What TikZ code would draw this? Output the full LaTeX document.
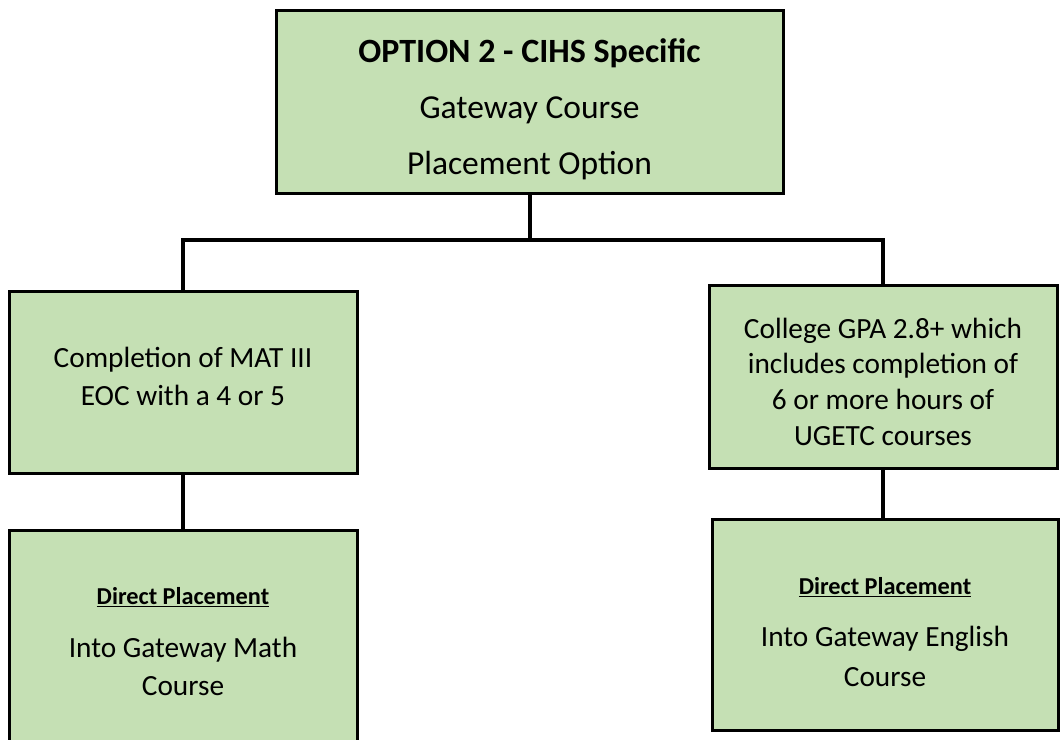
\documentclass[tikz,border=0pt]{standalone}
\usepackage{fontspec}
\setmainfont{Carlito}
\definecolor{boxgreen}{HTML}{C5E0B4}
\begin{document}
\begin{tikzpicture}[x=1pt,y=-1pt,
    stepbox/.style={draw=black,line width=3pt,fill=boxgreen,align=center,inner sep=0pt,
      font=\fontsize{29.3}{38}\selectfont},
    link/.style={line width=4pt}]
  \useasboundingbox (0,0) rectangle (1060,739);

  % Drawing box top
  \node [stepbox,minimum width=507,minimum height=183,font=\fontsize{33.5}{56}\selectfont]
    (top) at (529.5,101.5)
    {\rule{0pt}{39pt}{\fontsize{34}{56}\selectfont\bfseries OPTION 2 - CIHS Specific}\\
     Gateway Course\\ Placement Option};

  % Drawing box math
  \node [stepbox,minimum width=348,minimum height=182] (math) at (183,382)
    {Completion of MAT III\\ EOC with a 4 or 5\rule[-12pt]{0pt}{12pt}};

  % Drawing box gpa
  \node [stepbox,minimum width=348,minimum height=183,font=\fontsize{29.3}{35.8}\selectfont]
    (gpa) at (883,376.5)
    {\rule{0pt}{31pt}College GPA 2.8+ which\\ includes completion of\\ 6 or more hours of\\ UGETC courses};

  % Drawing box math placement
  \node [stepbox,minimum width=348,minimum height=216] (mathplace) at (183,638)
    {\rule{0pt}{24pt}{\fontsize{24.3}{38}\selectfont\bfseries\underline{Direct Placement}}\\[15pt]
     Into Gateway Math\\ Course};

  % Drawing box english placement
  \node [stepbox,minimum width=346,minimum height=211,font=\fontsize{29.3}{40}\selectfont]
    (engplace) at (885,624.5)
    {\rule{0pt}{32pt}{\fontsize{24.3}{40}\selectfont\bfseries\underline{Direct Placement}}\\[12pt]
     Into Gateway English\\ Course};

  % Drawing connectors
  \coordinate (bus) at (0,240);
  \draw [link] (top.south) -- (top.south |- bus);
  \draw [link] (math.north) |- (bus -| gpa.north) -- (gpa.north);
  \draw [link] (math.south) -- (mathplace.north);
  \draw [link] (gpa.south) -- (gpa.south |- engplace.north);
\end{tikzpicture}
\end{document}
